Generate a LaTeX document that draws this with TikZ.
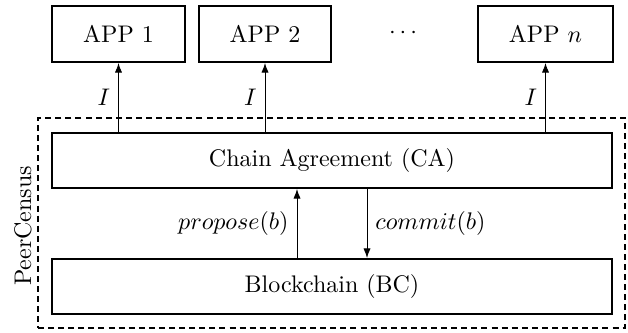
\documentclass[tikz,border=0pt]{standalone}
\usetikzlibrary{arrows.meta}
\begin{document}
\begin{tikzpicture}[x=0.4167pt,y=-0.4167pt,
  box/.style={draw,line width=0.8pt,rectangle,inner sep=0pt},
  apparrow/.style={-{Latex[length=4pt,width=3pt]},line width=0.4pt},
  lbl/.style={font=\normalsize}]
\useasboundingbox (0,0) rectangle (628,333);
\node[box,minimum width=133*0.4167pt,minimum height=56*0.4167pt] (app1) at (118.5,34) {APP 1};
\node[box,minimum width=132*0.4167pt,minimum height=56*0.4167pt] (app2) at (265,34) {APP 2};
\node (dots) at (403,33) {$\cdots$};
\node[box,minimum width=135*0.4167pt,minimum height=56*0.4167pt] (appn) at (545.5,34) {APP $n$};
\node[draw,dash pattern=on 2.5pt off 1.7pt,line width=0.8pt,inner sep=0pt,minimum width=587*0.4167pt,minimum height=210*0.4167pt] (pc) at (331.5,223) {};
\node[rotate=90,anchor=south,inner sep=2pt] (pclabel) at ([yshift=-3*0.4167pt]pc.west) {PeerCensus};
\node[box,minimum width=560*0.4167pt,minimum height=55*0.4167pt] (ca) at (332,160.5) {Chain Agreement (CA)};
\node[box,minimum width=560*0.4167pt,minimum height=55*0.4167pt] (bc) at (332,286.5) {Blockchain (BC)};
\draw[apparrow] (app1.south |- ca.north) -- node[left] {$I$} (app1.south);
\draw[apparrow] (app2.south |- ca.north) -- node[left] {$I$} (app2.south);
\draw[apparrow] (appn.south |- ca.north) -- node[left] {$I$} (appn.south);
\draw[apparrow] ([xshift=-35*0.4167pt]bc.north) -- node[left] {$propose(b)$} ([xshift=-35*0.4167pt]ca.south);
\draw[apparrow] ([xshift=35*0.4167pt]ca.south) -- node[right] {$commit(b)$} ([xshift=35*0.4167pt]bc.north);
\end{tikzpicture}
\end{document}
